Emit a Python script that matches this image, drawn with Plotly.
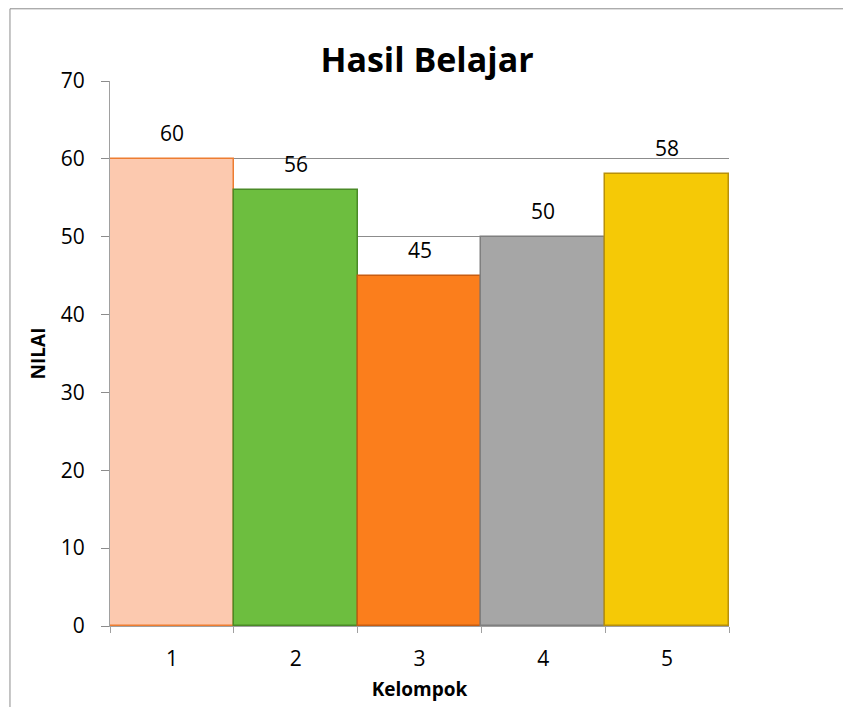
import plotly.graph_objects as go

categories = ["1", "2", "3", "4", "5"]
values = [60, 56, 45, 50, 58]
bar_colors = ["#FCC9AF", "#6DBE3F", "#FB7E1C", "#A6A6A6", "#F5C906"]
line_colors = ["#ED7D31", "#4A8A27", "#C85C10", "#7F7F7F", "#B8900A"]
y_ticks = [0, 10, 20, 30, 40, 50, 60, 70]

FONT = "Open Sans"

fig = go.Figure()
fig.add_trace(go.Bar(
    x=categories, y=values,
    marker=dict(color=bar_colors, line=dict(color=line_colors, width=1.5)),
    width=1.0,
    hoverinfo="skip",
))

for i, v in enumerate(values):
    fig.add_annotation(x=i, y=v, text=str(v), showarrow=False,
                       yanchor="middle", yshift=26,
                       font=dict(family=FONT, size=21, color="#000000"))

fig.add_shape(type="rect", xref="paper", yref="paper",
              x0=-0.1616, x1=1.4, y0=-0.3, y1=1.1325,
              line=dict(color="#8C8C8C", width=1), fillcolor="rgba(0,0,0,0)",
              layer="below")

fig.update_layout(
    width=851, height=707,
    margin=dict(l=102, r=130, t=73, b=89, autoexpand=False),
    paper_bgcolor="white", plot_bgcolor="white",
    showlegend=False,
    bargap=0,
    title=dict(text="<b>Hasil Belajar</b>", x=0.4924, xanchor="center",
               y=0.926, yanchor="middle",
               font=dict(family=FONT, size=34, color="#000000")),
    xaxis=dict(
        title=dict(text="<b>Kelompok</b>", standoff=11,
                   font=dict(family=FONT, size=19, color="#000000")),
        tickfont=dict(family=FONT, size=21, color="#000000"),
        ticklabelstandoff=14,
        range=[-0.5, 4.5], automargin=False,
        tickson="boundaries", ticks="outside", ticklen=6, tickcolor="#A0A0A0",
        showline=True, linecolor="#A0A0A0", linewidth=1,
        showgrid=False, zeroline=False,
    ),
    yaxis=dict(
        title=dict(text="<b>NILAI</b>", standoff=10,
                   font=dict(family=FONT, size=19, color="#000000")),
        tickfont=dict(family=FONT, size=21, color="#000000"),
        ticklabelstandoff=12,
        range=[0, 70], tickvals=y_ticks, automargin=False,
        ticks="outside", ticklen=8, tickcolor="#8C8C8C",
        showline=True, linecolor="#A0A0A0", linewidth=1,
        showgrid=True, gridcolor="#8C8C8C", gridwidth=1,
        zeroline=False,
    ),
)

fig.write_html("out.html")
